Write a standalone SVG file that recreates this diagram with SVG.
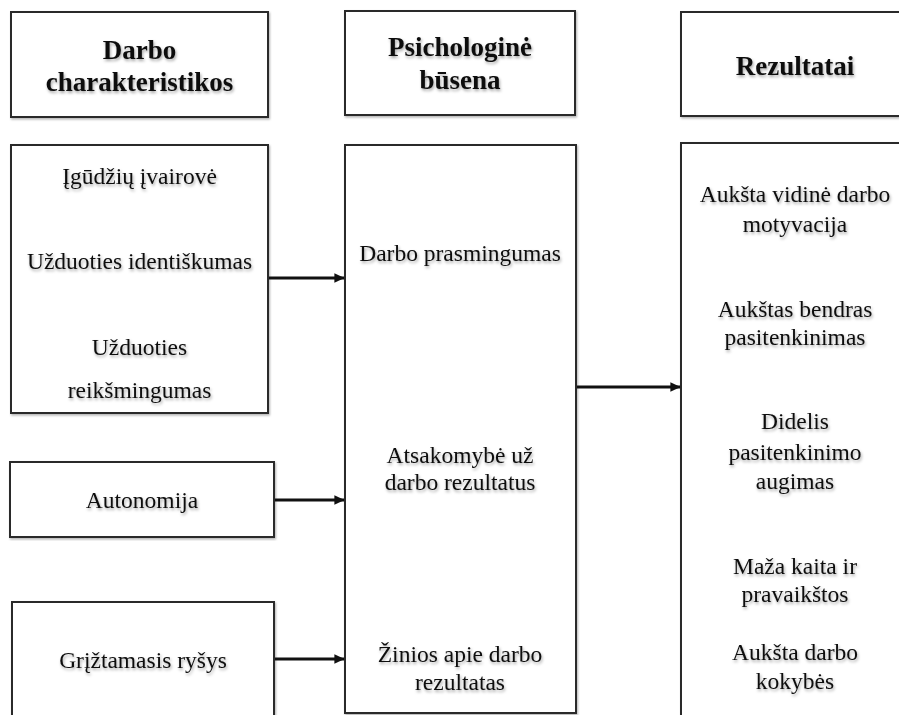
<svg xmlns="http://www.w3.org/2000/svg" width="899" height="715" viewBox="0 0 899 715">
<style>
  .box { fill: #ffffff; stroke: #2a2a2a; stroke-width: 2; }
  .t { font-family: "Liberation Serif", "Times New Roman", serif; font-size: 23.5px; fill: #111; text-anchor: middle; filter: url(#ts); }
  .h { font-family: "Liberation Serif", "Times New Roman", serif; font-size: 27px; font-weight: bold; fill: #111; text-anchor: middle; filter: url(#ts); }
  .conn { stroke: #111; stroke-width: 3; fill: none; marker-end: url(#arrow); }
</style>
<defs>
  <filter id="ts" x="-10%" y="-30%" width="120%" height="170%">
    <feDropShadow dx="1" dy="2" stdDeviation="1.4" flood-color="#000" flood-opacity="0.35"/>
  </filter>
  <filter id="bs" x="-5%" y="-5%" width="110%" height="110%">
    <feDropShadow dx="1" dy="1.5" stdDeviation="1" flood-color="#000" flood-opacity="0.3"/>
  </filter>
  <marker id="arrow" markerWidth="4" markerHeight="4" refX="3.2" refY="2" orient="auto" markerUnits="strokeWidth">
    <path d="M0,0.4 L3.4,2 L0,3.6 Z" fill="#111"/>
  </marker>
</defs>
<rect width="899" height="715" fill="#ffffff"/>

<g id="hdr-darbo">
  <rect class="box" x="11" y="12" width="257" height="105" filter="url(#bs)"/>
  <text class="h" x="139.5" y="59">Darbo</text>
  <text class="h" x="139.5" y="91">charakteristikos</text>
</g>
<g id="hdr-psich">
  <rect class="box" x="345" y="11" width="230" height="104" filter="url(#bs)"/>
  <text class="h" x="460" y="56">Psichologinė</text>
  <text class="h" x="460" y="89">būsena</text>
</g>
<g id="hdr-rez">
  <rect class="box" x="681" y="12" width="230" height="104" filter="url(#bs)"/>
  <text class="h" x="795" y="75">Rezultatai</text>
</g>

<g id="n-igudziai">
  <rect class="box" x="11" y="145" width="257" height="268" filter="url(#bs)"/>
  <text class="t" x="139.5" y="184">Įgūdžių įvairovė</text>
  <text class="t" x="139.5" y="269">Užduoties identiškumas</text>
  <text class="t" x="139.5" y="355">Užduoties</text>
  <text class="t" x="139.5" y="398">reikšmingumas</text>
</g>
<g id="n-autonomija">
  <rect class="box" x="10" y="462" width="264" height="75" filter="url(#bs)"/>
  <text class="t" x="142" y="508">Autonomija</text>
</g>
<g id="n-grizt">
  <rect class="box" x="12" y="602" width="262" height="130" filter="url(#bs)"/>
  <text class="t" x="143" y="668">Grįžtamasis ryšys</text>
</g>

<g id="n-psich">
  <rect class="box" x="345" y="145" width="231" height="568" filter="url(#bs)"/>
  <text class="t" x="460" y="261">Darbo prasmingumas</text>
  <text class="t" x="460" y="463">Atsakomybė už</text>
  <text class="t" x="460" y="490">darbo rezultatus</text>
  <text class="t" x="460" y="662">Žinios apie darbo</text>
  <text class="t" x="460" y="690">rezultatas</text>
</g>

<g id="n-rez">
  <rect class="box" x="681" y="143" width="230" height="590" filter="url(#bs)"/>
  <text class="t" x="795" y="202">Aukšta vidinė darbo</text>
  <text class="t" x="795" y="232">motyvacija</text>
  <text class="t" x="795" y="317">Aukštas bendras</text>
  <text class="t" x="795" y="345">pasitenkinimas</text>
  <text class="t" x="795" y="429">Didelis</text>
  <text class="t" x="795" y="460">pasitenkinimo</text>
  <text class="t" x="795" y="489">augimas</text>
  <text class="t" x="795" y="574">Maža kaita ir</text>
  <text class="t" x="795" y="602">pravaikštos</text>
  <text class="t" x="795" y="660">Aukšta darbo</text>
  <text class="t" x="795" y="689">kokybės</text>
</g>

<g id="connectors">
  <line class="conn" x1="269" y1="278" x2="344" y2="278"/>
  <line class="conn" x1="275" y1="500" x2="344" y2="500"/>
  <line class="conn" x1="275" y1="659" x2="344" y2="659"/>
  <line class="conn" x1="577" y1="387" x2="680" y2="387"/>
</g>
</svg>
